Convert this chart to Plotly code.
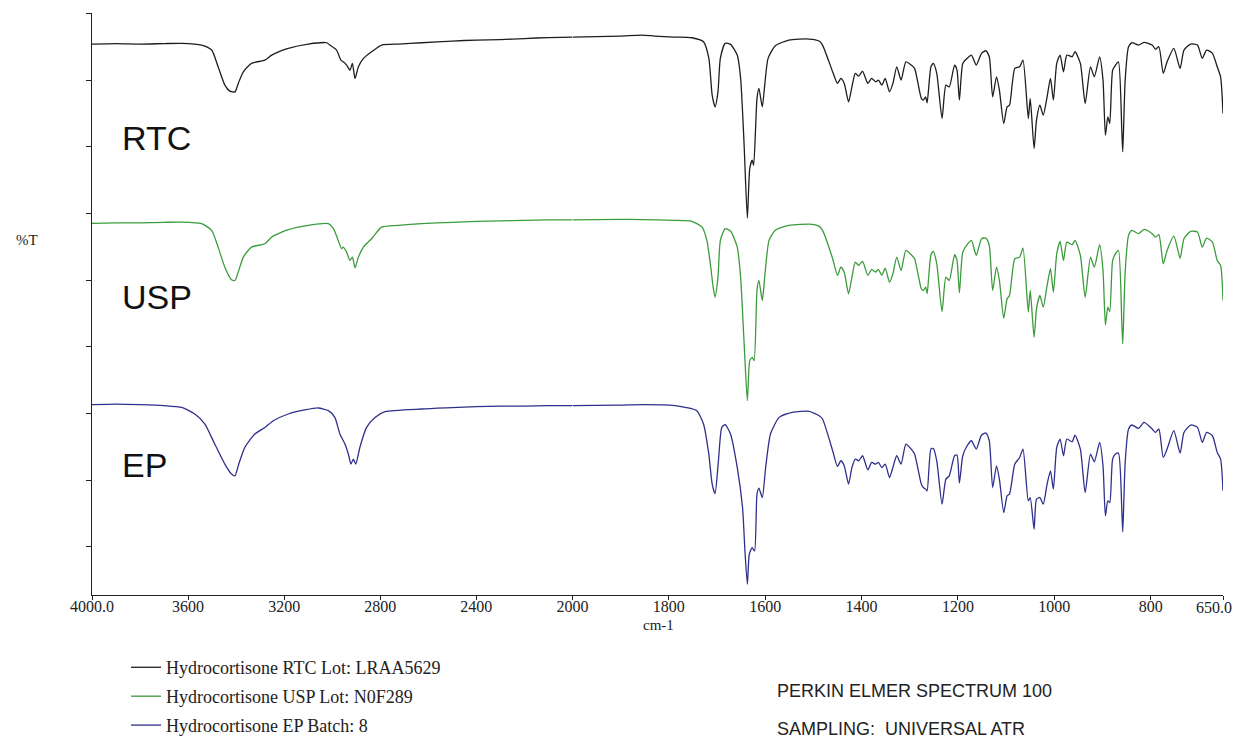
import plotly.graph_objects as go

# ---------------- data (wavenumber in cm-1, transmittance in arbitrary stacked %T units) -------------
rtc_hi_wn = [4000, 3900, 3800, 3700, 3627, 3544, 3502, 3475, 3447, 3426, 3405, 3391, 3370, 3336, 3280,
             3252, 3183, 3100, 3023, 3010, 2982, 2964, 2954, 2940, 2926, 2916, 2905, 2891, 2870, 2836,
             2794, 2725, 2627, 2500, 2400, 2300, 2200, 2100]
rtc_hi_T = [556, 556.5, 556, 556.5, 556.7, 555, 550, 533.3, 515, 509, 508.3, 516.7, 528.3, 536.7, 540,
            545, 551.7, 556, 557.3, 555, 550, 540, 538.3, 535, 530, 536.7, 521.7, 533.3, 541.7, 548.3,
            555, 556, 557.3, 559, 560, 560.5, 561.5, 562.5]

usp_hi_wn = [4000, 3900, 3800, 3700, 3627, 3544, 3502, 3475, 3447, 3419, 3405, 3389, 3370, 3336, 3280,
             3252, 3183, 3100, 3016, 2995, 2975, 2961, 2954, 2940, 2926, 2916, 2905, 2891, 2870, 2836,
             2794, 2725, 2627, 2500, 2400, 2300, 2200, 2100]
usp_hi_T = [377, 377.5, 377.5, 378, 378.3, 376.7, 370, 353.3, 333.3, 320.7, 320, 330, 343.3, 353.3, 356.7,
            363.3, 370.7, 375, 376.7, 371.7, 360, 351.7, 353.3, 348.3, 340, 343.3, 332.7, 343.3, 353.3, 361.7,
            373.3, 375, 376.7, 378, 379, 379.5, 380, 380.5]

ep_hi_wn = [4000, 3900, 3800, 3700, 3627, 3572, 3530, 3489, 3447, 3419, 3405, 3389, 3364, 3322, 3280,
            3245, 3183, 3114, 3058, 3016, 2989, 2968, 2947, 2933, 2922, 2912, 2902, 2885, 2857, 2822,
            2780, 2627, 2500, 2400, 2300, 2200, 2100]
ep_hi_T = [196, 196.5, 196, 195, 193.3, 186.7, 176.7, 156.7, 136.7, 126.7, 125, 136.7, 153.3, 166.7, 173.3,
           180, 186.7, 190.7, 192.7, 190, 183.3, 166.7, 156.7, 146.7, 136.7, 141.7, 136.7, 153.3, 173.3, 183.3,
           189, 191.7, 193, 194, 194.5, 194.5, 195]

rtc_mid_wn = [2000, 1950, 1900, 1856, 1829, 1790, 1752, 1728, 1717, 1710, 1704, 1698, 1693, 1683, 1672,
              1658, 1651, 1644, 1637, 1632, 1627, 1624, 1617, 1613, 1606, 1601, 1594, 1579, 1551, 1509, 1488]
rtc_mid_T = [563, 563.5, 564, 565, 564, 563, 562.3, 558.3, 542, 505, 493.3, 508.3, 542, 556.7, 555.7,
             545, 522, 458.3, 382.3, 432, 440, 435, 501.7, 511.7, 493.3, 515, 541.7, 554.3, 560, 561, 559]

usp_mid_wn = [2000, 1900, 1856, 1790, 1752, 1731, 1721, 1713, 1708, 1704, 1698, 1693, 1683, 1672, 1658,
              1651, 1644, 1637, 1632, 1627, 1623, 1617, 1613, 1606, 1601, 1592, 1579, 1551, 1502, 1488]
usp_mid_T = [380.5, 381, 380.7, 380, 379, 373.3, 360, 333.3, 313.3, 303.3, 323.3, 360, 371.7, 369.3, 353.3,
             323.3, 260, 200, 240, 243.3, 240, 310, 320, 300, 323.3, 360, 370, 375, 376, 374]

ep_mid_wn = [2000, 1900, 1856, 1787, 1766, 1742, 1728, 1717, 1710, 1704, 1697, 1690, 1683, 1672, 1658,
             1647, 1642, 1637, 1633, 1627, 1622, 1617, 1613, 1606, 1599, 1589, 1571, 1544, 1509, 1488]
ep_mid_T = [195, 195.5, 196, 195, 193.3, 190, 176.7, 146.7, 116.7, 107.3, 140, 173.3, 176, 166.7, 133.3,
            93.3, 50, 16.7, 46.7, 53.3, 50, 106.7, 112.7, 103.3, 133.3, 166.7, 183.3, 188.3, 189.3, 185]

fp_wn = [1481, 1460, 1450, 1443, 1436, 1427, 1420, 1413, 1406, 1398,
         1387, 1379, 1371, 1365, 1358, 1351, 1342, 1335, 1327, 1318,
         1308, 1297, 1290, 1276, 1272, 1267, 1264, 1256, 1251, 1244,
         1233, 1225, 1218, 1207, 1202, 1197, 1190, 1181, 1172, 1162,
         1151, 1142, 1135, 1128, 1120, 1114, 1105, 1098, 1093, 1082,
         1072, 1065, 1054, 1050, 1042, 1037, 1030, 1023, 1015, 1008,
         1002, 995, 988, 981, 974, 963, 957, 946, 936, 925,
         917, 906, 899, 894, 889, 885, 879, 873, 867, 860,
         858, 853, 846, 839, 825, 814, 797, 790, 783, 774,
         766, 752, 739, 731, 717, 703, 693, 684, 672, 662,
         655, 650]

rtc_fp_T = [555, 528.3, 516.7, 521.7, 516.7, 498.3, 513.3, 526.7, 524, 529,
            516.7, 521.7, 518.3, 520, 515, 521.7, 508.3, 516.7, 533.3, 520,
            538.3, 535, 531.7, 501.7, 500, 503.3, 497.3, 533.3, 536.7, 526.7,
            481.7, 515, 513.3, 535, 530, 500, 536.7, 541.7, 545, 535,
            546.7, 549.3, 543.3, 503.3, 523.3, 510, 476.7, 493.3, 495, 531.7,
            533.3, 540, 481.7, 501.7, 451.7, 480, 495, 485, 503.3, 521.7,
            500, 536.7, 545, 528.3, 545, 543.3, 548.3, 536.7, 496.7, 533.3,
            523.3, 543.3, 520, 465, 483.3, 476.7, 530, 535, 538.3, 470,
            448.3, 520, 553.3, 557.3, 555, 557.7, 555, 550.7, 553.3, 526.7,
            538.3, 551.7, 531.7, 550, 556, 555, 541.7, 550, 546.7, 533.3,
            523.3, 486.7]

usp_fp_T = [370, 341.7, 325, 333.3, 328.3, 306.7, 323.3, 338.3, 335, 339,
            325, 331, 328.3, 331, 325, 332.3, 318.3, 326.7, 343.3, 330,
            350, 345.7, 341.7, 311.7, 310, 313.3, 306.7, 345.7, 349, 336.7,
            289, 323.3, 320, 345.7, 340, 307.7, 348.3, 355.7, 360, 345,
            361.7, 362.3, 355, 310, 333.3, 320, 282.3, 301.7, 305, 341.7,
            343.3, 352.3, 288.3, 310, 263.3, 291.7, 305, 293.3, 315, 331.7,
            308.3, 346.7, 359, 340, 358.3, 355.7, 360, 345, 303.3, 343.3,
            333.3, 355.7, 330, 275.7, 293.3, 289, 340, 346.7, 350, 278.3,
            256.7, 328.3, 365, 370, 366.7, 371, 366.7, 363.3, 365.7, 336.7,
            350, 364.3, 342.3, 361.7, 369, 368.3, 353.3, 362.3, 358.3, 340,
            335, 300]

ep_fp_T = [181.7, 150, 134.3, 140, 135, 116.7, 133.3, 141.7, 140, 145,
           131, 138.3, 136.7, 138.3, 133.3, 136.7, 123.3, 133.3, 145, 136.7,
           156.7, 151.7, 146.7, 116.7, 113.3, 111.7, 110, 151.7, 152.3, 140,
           96.7, 121.7, 125, 145, 145.7, 117.7, 145, 155, 160, 151.7,
           165.7, 167.7, 160, 113.3, 135, 121.7, 88.3, 105, 106.7, 136.7,
           143.3, 151.7, 100, 103.3, 71.7, 101.7, 103.3, 96.7, 116.7, 130,
           111.7, 153.3, 161.7, 145, 161.7, 159, 165.7, 151.7, 108.3, 146.7,
           139, 158.3, 135, 85, 100, 98.3, 141.7, 146.7, 147.7, 91.7,
           69, 138.3, 171.7, 175.7, 172.3, 178.3, 171.7, 168.3, 171.7, 143.3,
           151.7, 170, 147.7, 168.3, 175.7, 173.3, 158.3, 168.3, 165, 148.3,
           141.7, 110]

series_names = ["Hydrocortisone RTC Lot: LRAA5629",
                "Hydrocortisone USP Lot: N0F289",
                "Hydrocortisone EP Batch: 8"]
series_colors = ["#1e1e1e", "#3c9b3c", "#2f2f8c"]
panel_labels = ["RTC", "USP", "EP"]

x_ticks_left = [4000, 3600, 3200, 2800, 2400, 2000]
x_ticktext_left = ["4000.0", "3600", "3200", "2800", "2400", "2000"]
x_ticks_right = [1800, 1600, 1400, 1200, 1000, 800, 650]
x_ticktext_right = ["1800", "1600", "1400", "1200", "1000", "800", ""]
x_end_tick = [650]
x_end_ticktext = ["650.0"]

# ---------------- figure -------------
SPLIT = 2000
spectra = [
    (rtc_hi_wn + rtc_mid_wn + fp_wn, rtc_hi_T + rtc_mid_T + rtc_fp_T),
    (usp_hi_wn + usp_mid_wn + fp_wn, usp_hi_T + usp_mid_T + usp_fp_T),
    (ep_hi_wn + ep_mid_wn + fp_wn, ep_hi_T + ep_mid_T + ep_fp_T),
]

fig = go.Figure()
for (wn, T), name, color in zip(spectra, series_names, series_colors):
    lx = [w for w in wn if w >= SPLIT]
    ly = [t for w, t in zip(wn, T) if w >= SPLIT]
    rx = [w for w in wn if w <= SPLIT]
    ry = [t for w, t in zip(wn, T) if w <= SPLIT]
    line = dict(color=color, width=1.3, shape="spline", smoothing=0.6)
    fig.add_trace(go.Scatter(x=lx, y=ly, mode="lines", name=name, legendgroup=name,
                             line=line, xaxis="x", yaxis="y"))
    fig.add_trace(go.Scatter(x=rx, y=ry, mode="lines", name=name, legendgroup=name, showlegend=False,
                             line=line, xaxis="x2", yaxis="y"))
# empty helper trace so the end-label axis is drawn
fig.add_trace(go.Scatter(x=[], y=[], mode="lines", showlegend=False, hoverinfo="skip",
                         xaxis="x3", yaxis="y"))

# page has an 8px body margin; observed capture scale of the page
OFF = 8
SX, SY = 0.991, 0.999
W, H = 1236, 755

def fx(sx):   # screen x -> figure px
    return sx / SX - OFF

def fy(sy):   # screen y -> figure px
    return sy / SY - OFF

L = fx(91)
R = W - fx(1221)
T_ = fy(13)
B = H - fy(594)
pw, ph = W - L - R, H - T_ - B
split_frac = (fx(571) - L) / pw

def px_x(x):
    return (fx(x) - L) / pw

def px_y(y):
    return (H - B - fy(y)) / ph

serif = "Liberation Serif, Times New Roman, serif"
sans = "Liberation Sans, Arial, sans-serif"

tickfont = dict(family=serif, size=16, color="#222")
axis_common = dict(showline=True, linecolor="#222", linewidth=1, ticks="outside", ticklen=4,
                   tickcolor="#222", showgrid=False, zeroline=False, ticklabelstandoff=-7,
                   tickfont=tickfont)

fig.update_layout(
    width=W, height=H,
    margin=dict(l=L, r=R, t=T_, b=B),
    paper_bgcolor="white", plot_bgcolor="white",
    xaxis=dict(domain=[0, split_frac], range=[4000, 2000], tickmode="array",
               tickvals=x_ticks_left, ticktext=x_ticktext_left, anchor="y", **axis_common),
    xaxis2=dict(domain=[split_frac, 1], range=[2000, 650], tickmode="array",
                tickvals=x_ticks_right, ticktext=x_ticktext_right, anchor="y", **axis_common),
    xaxis3=dict(overlaying="x2", range=[2000, 650], anchor="y", tickmode="array",
                tickvals=x_end_tick, ticktext=x_end_ticktext, showline=False, ticks="",
                showgrid=False, zeroline=False, ticklabelposition="outside left",
                ticklabelshift=-9, ticklabelstandoff=1, tickfont=tickfont),
    yaxis=dict(range=[6, 587], showline=True, linecolor="#222", linewidth=1, ticks="outside",
               ticklen=5, tickcolor="#222", tickmode="linear", tick0=54, dtick=66.55,
               showticklabels=False, showgrid=False, zeroline=False),
    showlegend=True,
    legend=dict(x=px_x(125), y=px_y(648), xanchor="left", yanchor="top",
                font=dict(family=serif, size=18, color="#222"), tracegroupgap=2.5,
                bgcolor="rgba(0,0,0,0)"),
)

annos = []
for lab, yc in zip(panel_labels, [138, 297, 464]):
    annos.append(dict(text=lab, x=px_x(119), y=px_y(yc), xref="paper", yref="paper",
                      xanchor="left", yanchor="middle", showarrow=False,
                      font=dict(family=sans, size=34, color="#111")))
annos.append(dict(text="%T", x=px_x(26), y=px_y(240), xref="paper", yref="paper",
                  xanchor="center", yanchor="middle", showarrow=False,
                  font=dict(family=serif, size=15, color="#222")))
annos.append(dict(text="cm-1", x=px_x(657), y=px_y(624), xref="paper", yref="paper",
                  xanchor="center", yanchor="middle", showarrow=False,
                  font=dict(family=serif, size=15, color="#222")))
annos.append(dict(text="PERKIN ELMER SPECTRUM 100", x=px_x(773), y=px_y(690), xref="paper", yref="paper",
                  xanchor="left", yanchor="middle", showarrow=False,
                  font=dict(family=sans, size=18, color="#222")))
annos.append(dict(text="SAMPLING:  UNIVERSAL ATR", x=px_x(773), y=px_y(728), xref="paper", yref="paper",
                  xanchor="left", yanchor="middle", showarrow=False,
                  font=dict(family=sans, size=18, color="#222")))
fig.update_layout(annotations=annos)

fig.write_html("out.html")
